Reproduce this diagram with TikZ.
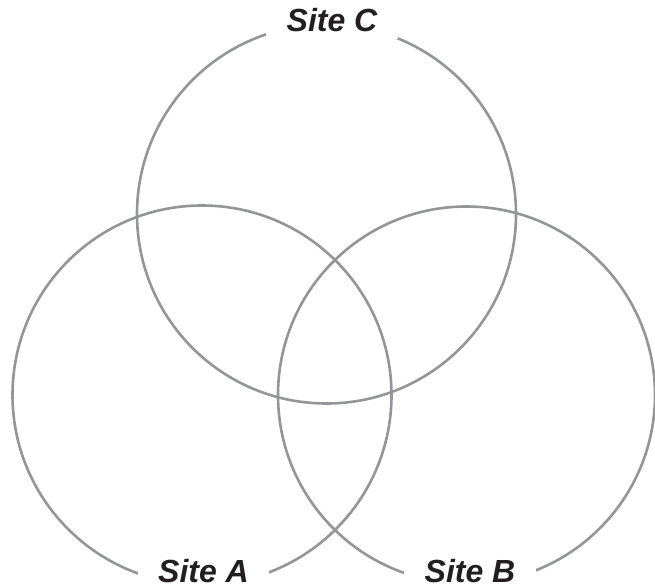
\documentclass[tikz,border=0pt]{standalone}
\usepackage{fontspec}
\setmainfont{Liberation Sans}
\definecolor{ring}{RGB}{148,149,153}
\definecolor{labtext}{RGB}{35,31,32}
\pgfdeclarelayer{rings}
\pgfdeclarelayer{mask}
\pgfsetlayers{rings,mask,main}
\begin{document}
\begin{tikzpicture}[x=1pt,y=-1pt,
  ring/.style={draw=ring,line width=2.6pt},
  site/.style={anchor=base,inner xsep=20pt,inner ysep=1pt,text=labtext,
    font=\fontsize{32}{36}\selectfont\bfseries\itshape},
  masking/.style={fill=white}]
\useasboundingbox (0,0) rectangle (655,588);
\begin{pgfonlayer}{rings}
\node[ring,circle,minimum size=379pt,inner sep=0pt] (cA) at (202,395) {};
\node[ring,circle,minimum size=377pt,inner sep=0pt] (cB) at (466.5,395) {};
\node[ring,circle,minimum size=379pt,inner sep=0pt] (cC) at (326.5,214) {};
\end{pgfonlayer}
\node[site] (lA) at (203.5,582) {Site A};
\node[site] (lB) at (470,582) {Site B};
\node[site] (lC) at (332,32) {Site C};
\begin{pgfonlayer}{mask}
\fill[masking] (lA.north west) rectangle ([yshift=-6pt]lA.south east);
\fill[masking] (lB.north west) rectangle ([yshift=-6pt]lB.south east);
\fill[masking] (lC.north west) rectangle ([yshift=-5pt]lC.south east);
\end{pgfonlayer}
\end{tikzpicture}
\end{document}
